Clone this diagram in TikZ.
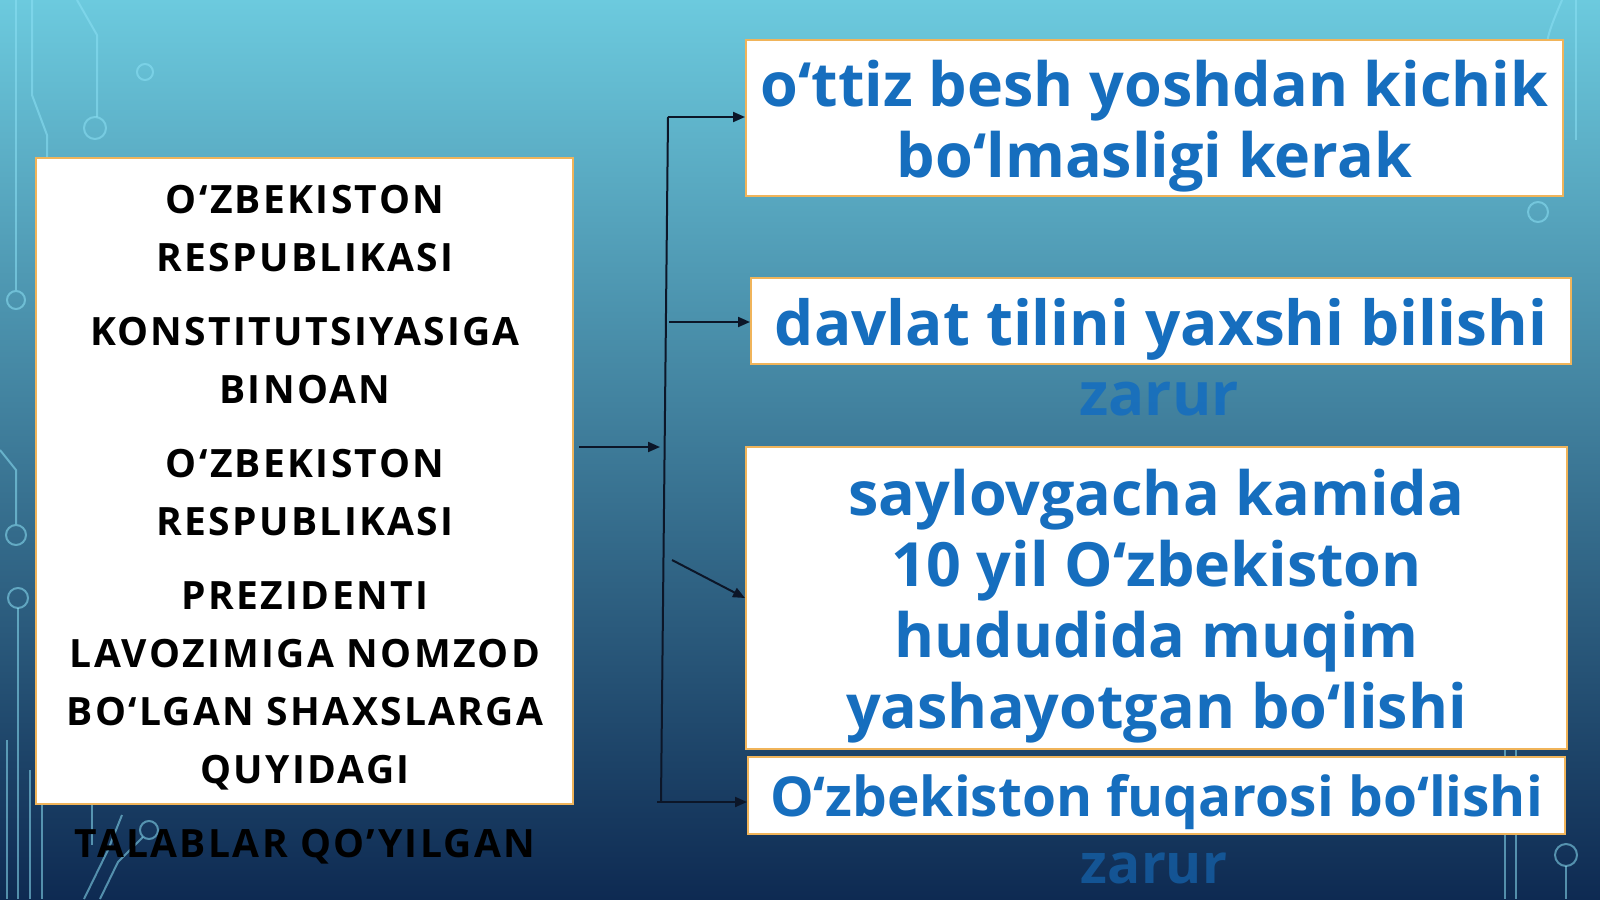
\documentclass[tikz,border=0pt]{standalone}
\usepackage{fontspec}
\setmainfont{Open Sans}
\newfontfamily\capsfont[LetterSpace=6]{Open Sans}
\usetikzlibrary{arrows.meta}
\usetikzlibrary{positioning}

\definecolor{bgtop}{RGB}{108,202,222}
\definecolor{bgmid}{RGB}{60,150,185}
\definecolor{bgbot}{RGB}{14,42,82}
\definecolor{decocol}{RGB}{140,225,245}
\definecolor{boxline}{RGB}{240,180,90}
\definecolor{textblue}{RGB}{22,110,190}
\definecolor{arrowcol}{RGB}{12,22,40}

\begin{document}
\begin{tikzpicture}[x=1pt,y=-1pt,
	reqbox/.style={draw=boxline, line width=2pt, fill=white, inner sep=0pt},
	bluetext/.style={inner sep=0pt, align=center, text=textblue, font=\fontsize{61}{71}\selectfont\bfseries},
	lefttext/.style={inner sep=0pt, align=center, font=\capsfont\fontsize{39}{58}\selectfont\bfseries},
	zarurtext/.style={inner sep=0pt, anchor=base, text=textblue, font=\fontsize{60}{71}\selectfont\bfseries},
	deco/.style={draw=decocol, line width=2pt, opacity=0.55},
	arr/.style={draw=arrowcol, line width=2pt, -{Triangle[length=12pt,width=10pt]}}]
	\useasboundingbox (0,0) rectangle (1600,899);
	\shade[top color=bgtop, middle color=bgmid, bottom color=bgbot] (0,0) rectangle (1600,899);

	% circuit lines of the background
	\draw[deco] (16,0) -- (16,290);
	\draw[deco] (16,300) circle (9);
	\draw[deco] (32,0) -- (32,95) -- (47,135) -- (47,250);
	\draw[deco] (77,0) -- (97,35) -- (97,117);
	\draw[deco] (95,128) circle (11);
	\draw[deco] (145,72) circle (8);
	\draw[deco] (0,450) -- (16,470) -- (16,524);
	\draw[deco] (16,535) circle (10);
	\draw[deco] (18,598) circle (10);
	\draw[deco] (18,608) -- (18,899);
	\draw[deco] (7,740) -- (7,899);
	\draw[deco] (30,770) -- (30,899);
	\draw[deco] (42,790) -- (42,899);
	\draw[deco] (92,790) -- (92,845);
	\draw[deco] (149,830) circle (9);
	\draw[deco] (143,837) -- (118,862) -- (100,899);
	\draw[deco] (122,815) -- (108,850) -- (84,899);
	\draw[deco] (1562,0) .. controls (1545,40) .. (1545,95);
	\draw[deco] (1576,0) -- (1576,140);
	\draw[deco] (1538,212) circle (10);
	\draw[deco] (1505,740) -- (1505,899);
	\draw[deco] (1516,740) -- (1516,899);
	\draw[deco] (1566,855) circle (11);
	\draw[deco] (1566,866) -- (1566,899);

	\node[reqbox, minimum width=537pt, minimum height=646pt] (cond) at (304.5,481) {};
	\node[lefttext, anchor=north] (condtext) at (305,185) {O‘ZBEKISTON\\RESPUBLIKASI\\[16pt]
		KONSTITUTSIYASIGA\\BINOAN\\[16pt]
		O‘ZBEKISTON\\RESPUBLIKASI\\[16pt]
		PREZIDENTI\\LAVOZIMIGA NOMZOD\\BO‘LGAN SHAXSLARGA\\QUYIDAGI\\[16pt]
		TALABLAR QO’YILGAN};

	\node[reqbox, minimum width=817pt, minimum height=156pt] (box1) at (1154.5,118) {};
	\node[bluetext] (box1text) at ([yshift=-8pt]box1.center) {o‘ttiz besh yoshdan kichik\\bo‘lmasligi kerak};
	\node[reqbox, minimum width=820pt, minimum height=86pt] (box2) at (1161,321) {};
	\node[bluetext, font=\fontsize{62}{71}\selectfont\bfseries] (box2text) at ([yshift=-8pt]box2.center) {davlat tilini yaxshi bilishi};
	\node[zarurtext, opacity=0.9] (zarur1) at (1159,415) {zarur};
	\node[reqbox, minimum width=821pt, minimum height=302pt] (box3) at (1156.5,598) {};
	\node[bluetext] (box3text) at ([yshift=-8pt]box3.center) {saylovgacha kamida\\10 yil O‘zbekiston\\hududida muqim\\yashayotgan bo‘lishi};
	\node[reqbox, minimum width=817pt, minimum height=77pt] (box4) at (1156.5,795.5) {};
	\node[bluetext, font=\fontsize{55}{71}\selectfont\bfseries] (box4text) at ([yshift=-7pt]box4.center) {O‘zbekiston fuqarosi bo‘lishi};
	\node[zarurtext, opacity=0.6, font=\fontsize{55}{71}\selectfont\bfseries] (zarur2) at (1154,883) {zarur};

	\coordinate (split) at (660,447);
	\coordinate (ttop) at (668,117);
	\coordinate (tbot) at (661,801);
	\coordinate (b2) at (669,322);
	\coordinate (b3) at (672,560);
	\coordinate (b4) at (657,802);

	\draw[arr] ([xshift=5pt]cond.east |- split) -- (split);
	\draw[draw=arrowcol, line width=2pt] (ttop) -- (tbot);
	\draw[arr] (ttop) -- (ttop -| box1.west);
	\draw[arr] (b2) -- (b2 -| box2.west);
	\draw[arr] (b3) -- (box3.west);
	\draw[arr] (b4) -- (b4 -| box4.west);
\end{tikzpicture}
\end{document}
